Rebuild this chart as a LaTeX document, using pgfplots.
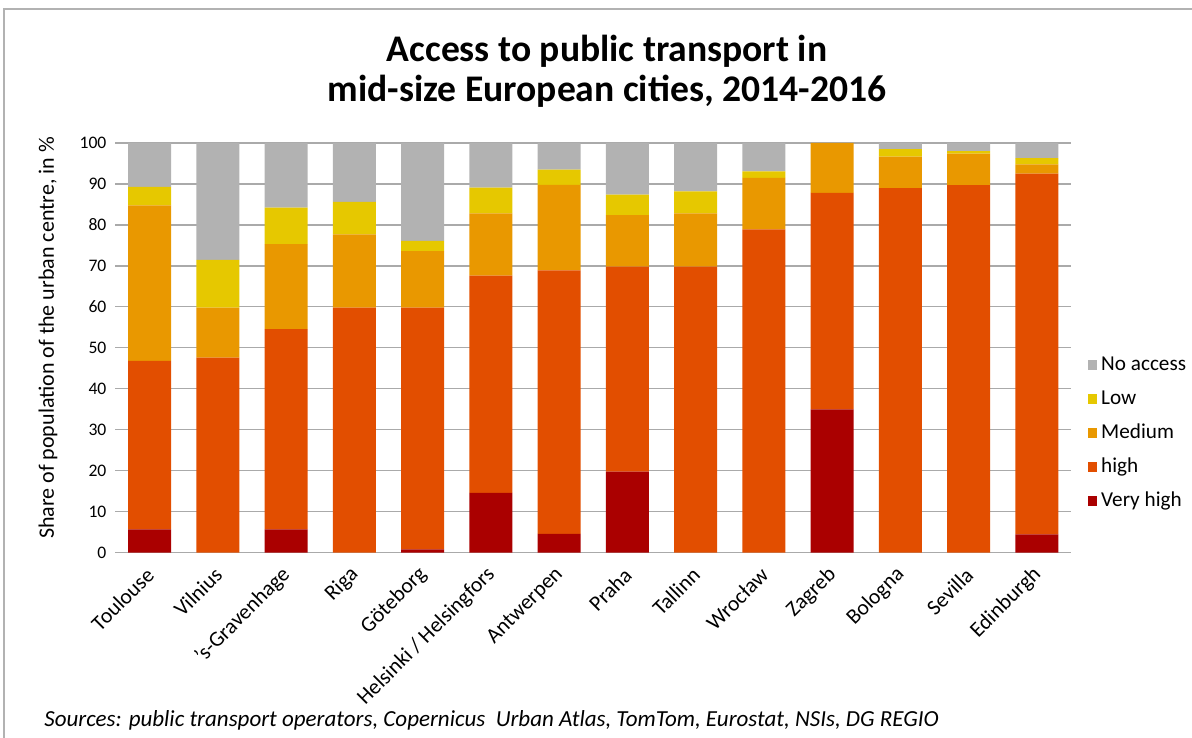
\documentclass[border=0pt]{standalone}
\usepackage{fontspec}
\setmainfont{Carlito}
\usepackage{pgfplots}
\usepackage{pgfplotstable}
\pgfplotsset{compat=1.18}

\definecolor{cNone}{RGB}{178,178,178}
\definecolor{cLow}{RGB}{230,200,0}
\definecolor{cMed}{RGB}{233,152,0}
\definecolor{cHigh}{RGB}{226,78,0}
\definecolor{cVHigh}{RGB}{170,0,0}
\definecolor{gridgray}{RGB}{170,170,170}

% share of population (%) by access level, cities in chart order
\pgfplotstableread{
x  vh    high  med   low   na
0  5.7   41.1  38.0  4.5   10.7
1  0     47.6  12.2  11.7  28.5
2  5.7   48.9  20.7  8.9   15.8
3  0     59.8  17.9  7.9   14.4
4  0.8   59.0  13.8  2.5   23.9
5  14.6  53.0  15.2  6.3   10.9
6  4.6   64.3  20.9  3.7   6.5
7  19.8  50.0  12.6  5.0   12.6
8  0     69.8  13.0  5.4   11.8
9  0     78.9  12.6  1.6   6.9
10 35.0  52.8  12.2  0     0
11 0     89.0  7.7   1.8   1.5
12 0     89.7  7.7   0.6   2.0
13 4.5   88.0  2.3   1.5   3.7
}\access

\begin{document}
\begin{tikzpicture}
\useasboundingbox (0,0) rectangle (596bp,369bp);
\draw[gray!60, line width=0.8bp] (2bp,0) -- (2bp,364.5bp) -- (596bp,364.5bp);
\node[font=\fontsize{18.8bp}{20bp}\selectfont\bfseries, anchor=base]
  at (303.5bp,338bp) {Access to public transport in};
\node[font=\fontsize{18.8bp}{20bp}\selectfont\bfseries, anchor=base]
  at (303.5bp,318bp) {mid-size European cities, 2014-2016};

\begin{axis}[
  at={(57.7bp,92.65bp)}, anchor=south west,
  scale only axis,
  width=477.8bp, height=204.85bp,
  ybar stacked,
  bar width=21.5bp,
  xmin=-0.5, xmax=13.5,
  ymin=0, ymax=100,
  xtick={0,...,13},
  xticklabels={Toulouse, Vilnius, '{}s-Gravenhage, Riga, Göteborg,
    Helsinki / Helsingfors, Antwerpen, Praha, Tallinn, Wrocław,
    Zagreb, Bologna, Sevilla, Edinburgh},
  ytick={0,10,...,100},
  ymajorgrids,
  grid style={gridgray, line width=0.6bp},
  axis x line*=bottom,
  axis y line*=left,
  y axis line style={draw=none},
  x axis line style={draw=gridgray, line width=0.6bp, -},
  major tick style={draw=none},
  /pgf/number format/assume math mode=true,
  yticklabel style={font=\fontsize{8.8bp}{10bp}\selectfont, xshift=-1bp},
  xticklabel style={font=\fontsize{10.8bp}{12bp}\selectfont,
    rotate=45, anchor=east, inner sep=1bp, xshift=-5.2bp, yshift=-6.9bp},
  ylabel={Share of population of the urban centre, in \%},
  ylabel style={font=\fontsize{11bp}{12bp}\selectfont,
    at={(axis description cs:-0.0705,0.524)}, anchor=center},
  reverse legend,
  legend cell align=left,
  legend style={at={(1.0178,0.292)}, anchor=west, draw=none, fill=none,
    inner sep=0pt, outer sep=0pt,
    font=\fontsize{10.6bp}{12bp}\selectfont, row sep=8bp, column sep=2bp,
    nodes={inner sep=0pt, text height=7bp, text depth=2bp}},
  legend image code/.code={\fill[#1] (0bp,-2.3bp) rectangle (4.6bp,2.3bp);},
]
\addplot[fill=cVHigh, draw=none] table[x=x, y=vh]{\access};
\addplot[fill=cHigh, draw=none] table[x=x, y=high]{\access};
\addplot[fill=cMed, draw=none] table[x=x, y=med]{\access};
\addplot[fill=cLow, draw=none] table[x=x, y=low]{\access};
\addplot[fill=cNone, draw=none] table[x=x, y=na]{\access};
\legend{Very high, high, Medium, Low, No access}
\end{axis}

\node[font=\fontsize{11.5bp}{13bp}\selectfont\itshape, anchor=west, inner sep=0pt]
  at (22bp,9bp) {Sources: public transport operators, Copernicus\ \ Urban Atlas, TomTom, Eurostat, NSIs, DG REGIO};
\end{tikzpicture}
\end{document}
